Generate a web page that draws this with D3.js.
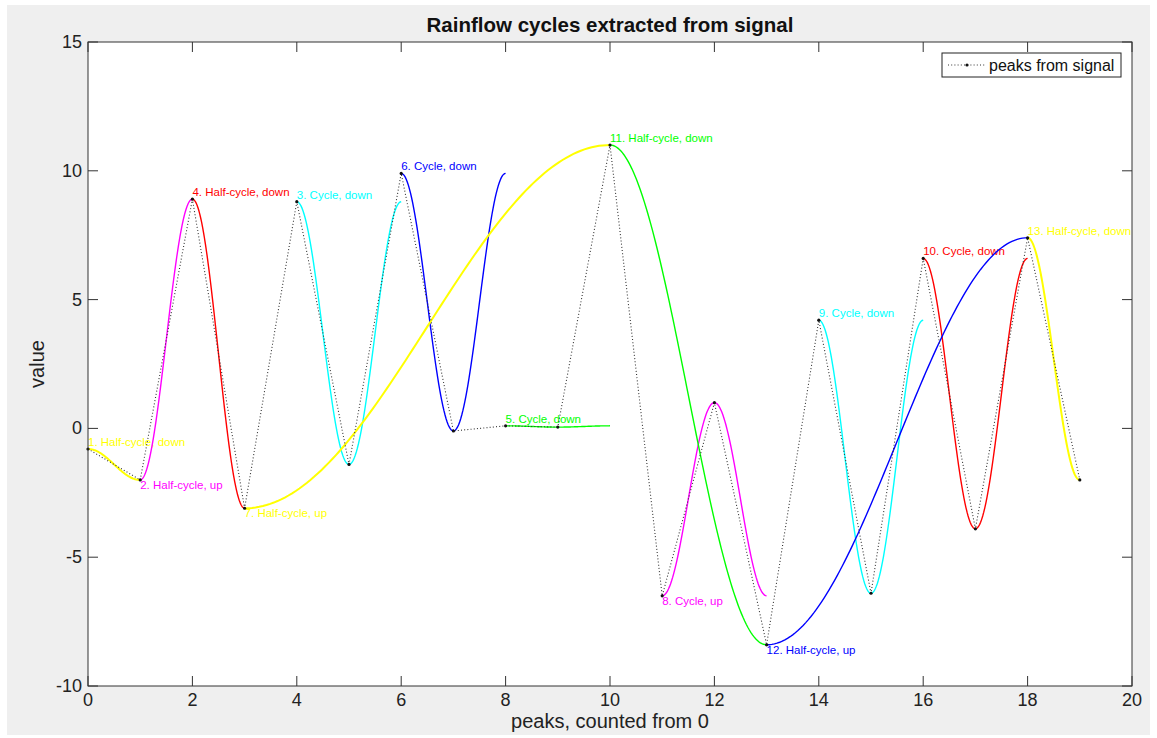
<!DOCTYPE html>
<html><head><meta charset="utf-8">
<script src="https://cdn.jsdelivr.net/npm/d3@7/dist/d3.min.js"></script>
<style>body{margin:0;background:#fff;} svg{display:block;font-family:"Liberation Sans",Arial,sans-serif;}</style>
</head><body>
<script>
// ---- data ----
const peakIndex = d3.range(20);
const peakValues = [-0.8, -2.0, 8.9, -3.1, 8.8, -1.4, 9.9, -0.1, 0.1, 0.05, 11.0, -6.5, 1.0, -8.4, 4.2, -6.4, 6.6, -3.9, 7.4, -2.0];
const cycleStart = [0, 1, 4, 2, 8, 6, 3, 11, 14, 16, 10, 13, 18];
const cycleEnd   = [1, 2, 5, 3, 9, 7, 10, 12, 15, 17, 13, 18, 19];
const cycleType  = ["Half-cycle","Half-cycle","Cycle","Half-cycle","Cycle","Cycle","Half-cycle","Cycle","Cycle","Cycle","Half-cycle","Half-cycle","Half-cycle"];
const cycleColors = ["#ffff00","#ff00ff","#00ffff","#ff0000","#00ff00","#0000ff"];
const xTicks = [0,2,4,6,8,10,12,14,16,18,20];
const yTicks = [-10,-5,0,5,10,15];
const titleText = "Rainflow cycles extracted from signal";
const xLabel = "peaks, counted from 0";
const yLabel = "value";
const legendLabel = "peaks from signal";

const W = 1157, H = 738;
const m = {left: 88, top: 42, right: 1132, bottom: 686};
const svg = d3.select("body").append("svg").attr("width", W).attr("height", H);
svg.append("rect").attr("x", 7).attr("y", 5).attr("width", 1143).attr("height", 730).attr("fill", "#efefef");
svg.append("rect").attr("x", m.left).attr("y", m.top).attr("width", m.right - m.left).attr("height", m.bottom - m.top).attr("fill", "#fff");

const x = d3.scaleLinear().domain([0, 20]).range([m.left, m.right]);
const y = d3.scaleLinear().domain([-10, 15]).range([m.bottom, m.top]);

const plot = svg.append("g");
svg.append("clipPath").attr("id", "clp").append("rect")
  .attr("x", m.left).attr("y", m.top).attr("width", m.right - m.left).attr("height", m.bottom - m.top);

// cycles
const line = d3.line().x(d => x(d[0])).y(d => y(d[1]));
cycleStart.forEach((s, i) => {
  const e = cycleEnd[i];
  const y0 = peakValues[s], y1 = peakValues[e];
  const full = cycleType[i] === "Cycle";
  const span = (e - s) * (full ? 2 : 1);
  const pts = d3.range(0, 101).map(k => {
    const t = k / 100;
    const c = full ? Math.cos(2 * Math.PI * t) : Math.cos(Math.PI * t);
    return [s + t * span, y0 + (y1 - y0) * (1 - c) / 2];
  });
  const col = cycleColors[i % 6];
  plot.append("path").attr("d", line(pts)).attr("fill", "none")
    .attr("stroke", col).attr("stroke-width", i % 6 === 0 ? 2 : 1.4).attr("clip-path", "url(#clp)");
  const down = y1 < y0;
  plot.append("text").attr("x", x(s)).attr("y", y(y0) + (down ? -3 : 9))
    .attr("font-size", 11.5).attr("fill", col)
    .text(`${i + 1}. ${cycleType[i]}, ${down ? "down" : "up"}`);
});

// peaks dotted line
const pk = peakIndex.map(i => [i, peakValues[i]]);
plot.append("path").attr("d", line(pk)).attr("fill", "none")
  .attr("stroke", "#333").attr("stroke-width", 1.1).attr("stroke-dasharray", "1,2.2");
plot.selectAll("circle.pk").data(pk).enter().append("circle")
  .attr("cx", d => x(d[0])).attr("cy", d => y(d[1])).attr("r", 1.6).attr("fill", "#111");

// axes box & ticks
const ax = svg.append("g").attr("stroke", "#333").attr("stroke-width", 1);
ax.append("rect").attr("x", m.left).attr("y", m.top).attr("width", m.right - m.left).attr("height", m.bottom - m.top).attr("fill", "none");
const tl = 10;
xTicks.forEach(t => {
  ax.append("line").attr("x1", x(t)).attr("x2", x(t)).attr("y1", m.bottom).attr("y2", m.bottom - tl);
  ax.append("line").attr("x1", x(t)).attr("x2", x(t)).attr("y1", m.top).attr("y2", m.top + tl);
});
yTicks.forEach(t => {
  ax.append("line").attr("y1", y(t)).attr("y2", y(t)).attr("x1", m.left).attr("x2", m.left + tl);
  ax.append("line").attr("y1", y(t)).attr("y2", y(t)).attr("x1", m.right).attr("x2", m.right - tl);
});
svg.append("g").selectAll("text").data(xTicks).enter().append("text")
  .attr("x", d => x(d)).attr("y", m.bottom + 20).attr("text-anchor", "middle")
  .attr("font-size", 18).attr("fill", "#222").text(d => d);
svg.append("g").selectAll("text").data(yTicks).enter().append("text")
  .attr("x", m.left - 6).attr("y", d => y(d) + 6).attr("text-anchor", "end")
  .attr("font-size", 18).attr("fill", "#222").text(d => d);

// labels
svg.append("text").attr("x", (m.left + m.right) / 2).attr("y", 32).attr("text-anchor", "middle")
  .attr("font-size", 20.5).attr("font-weight", "bold").attr("fill", "#111").text(titleText);
svg.append("text").attr("x", (m.left + m.right) / 2).attr("y", 728).attr("text-anchor", "middle")
  .attr("font-size", 20).attr("fill", "#222").text(xLabel);
svg.append("text").attr("transform", `translate(44,${(m.top + m.bottom) / 2}) rotate(-90)`).attr("text-anchor", "middle")
  .attr("font-size", 20).attr("fill", "#222").text(yLabel);

// legend
const lg = svg.append("g");
lg.append("rect").attr("x", 942).attr("y", 53).attr("width", 179).attr("height", 24).attr("fill", "#fff").attr("stroke", "#222");
lg.append("line").attr("x1", 948).attr("x2", 986).attr("y1", 65).attr("y2", 65)
  .attr("stroke", "#333").attr("stroke-width", 1.1).attr("stroke-dasharray", "1,2.2");
lg.append("circle").attr("cx", 967).attr("cy", 65).attr("r", 1.6).attr("fill", "#111");
lg.append("text").attr("x", 989).attr("y", 71).attr("font-size", 16).attr("fill", "#111").text(legendLabel);
</script>
</body></html>
